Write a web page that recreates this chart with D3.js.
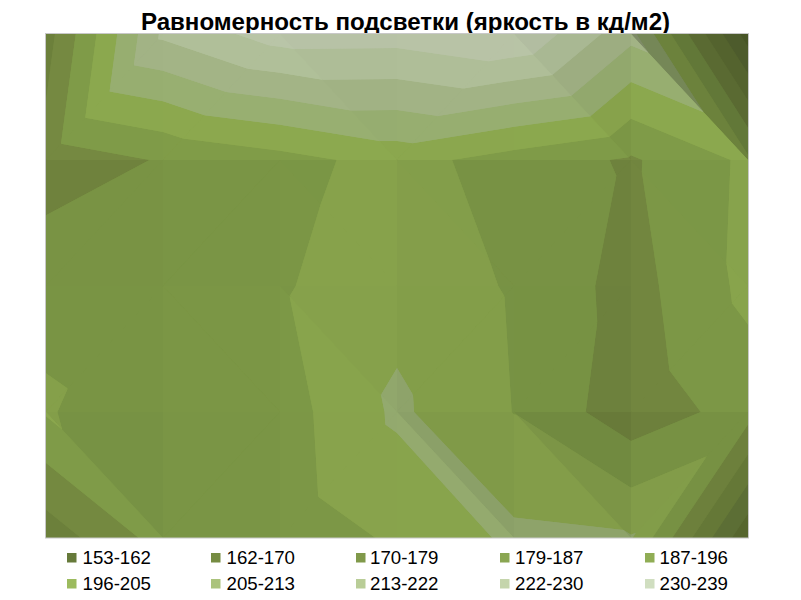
<!DOCTYPE html>
<html><head><meta charset="utf-8">
<script src="https://cdn.jsdelivr.net/npm/d3@7"></script>
<style>html,body{margin:0;padding:0;background:#fff}svg{display:block}text{font-family:"Liberation Sans",Arial,sans-serif;fill:#000}</style>
</head><body><svg id="c" width="801" height="600"></svg>
<script>
const titleText = "Равномерность подсветки (яркость в кд/м2)";
const columns = [0,1,2,3,4,5,6];
const rows = [0,1,2,3,4];
const row0 = [166.5,214.9,226,225.7,230.4,207.3,149];
const row1 = [173.5,179.5,184.3,190.7,183.7,177.7,189.1];
const row2 = [185.6,183.9,186.5,193.2,186.5,175.4,189.6];
const row3 = [188.2,180,183.4,197.5,187.2,173.5,182.4];
const row4 = [165,182.4,182.5,188.5,197.7,196.6,146];
const grid = [row0,row1,row2,row3,row4];
// how each grid cell is split in two: a = anti-diagonal, d = main diagonal
const splits = ["aadadd","aaddad","addaaa","daadda"];
const levels = [120,153,161.6,170.2,178.8,187.4,196,204.6,213.2,221.8,230.4,239];
const bandColors = ["#58692f","#5f7136","#687b39","#70843e","#7a9545","#86a14b","#91a76c","#9cac80","#a8b792","#b1bca0","#bac4ab"];
const legendLabels = ["153-162","162-170","170-179","179-187","187-196","196-205","205-213","213-222","222-230","230-239"];
const legendColors = ["#667a3a","#768c42","#80994a","#8aa652","#90ad55","#9cbb5e","#abc37c","#b9cd97","#c5d5ac","#d0dec0"];
const gain = {x:0.23, y:-0.25};

const svg = d3.select("#c");
const x = d3.scalePoint().domain(columns).range([46,748]);
const y = d3.scalePoint().domain(rows).range([34,538]);
const line = d3.line().x(d=>d.px).y(d=>d.py);

svg.append("text").attr("x",405.5).attr("y",29.5).attr("text-anchor","middle")
  .attr("font-size",24.1).attr("font-weight","bold").text(titleText);

svg.append("clipPath").attr("id","pa").append("rect")
  .attr("x",x(0)).attr("y",y(0)).attr("width",x(6)-x(0)).attr("height",y(4)-y(0));

function clip(poly, test, cut){
  const out=[];
  poly.forEach((p,i)=>{
    const q=poly[(i+1)%poly.length], a=test(p.z), b=test(q.z);
    if(a) out.push(p);
    if(a!==b){const t=(cut-p.z)/(q.z-p.z);
      out.push({px:p.px+t*(q.px-p.px),py:p.py+t*(q.py-p.py),z:cut});}
  });
  return out;
}
const node=(c,r)=>({px:x(c),py:y(r),z:grid[r][c]});
function shade(t){
  const [A,B,C]=t;
  const d=(B.px-A.px)*(C.py-A.py)-(C.px-A.px)*(B.py-A.py);
  const gx=((B.z-A.z)*(C.py-A.py)-(C.z-A.z)*(B.py-A.py))/d;
  const gy=((C.z-A.z)*(B.px-A.px)-(B.z-A.z)*(C.px-A.px))/d;
  const k=1+gain.x*gx+gain.y*gy;
  return k>1?1+(k-1)*0.5:k;
}
const clipped=svg.append("g").attr("clip-path","url(#pa)");
const under=clipped.append("g"), plot=clipped.append("g");
rows.slice(0,-1).forEach(r=>columns.slice(0,-1).forEach(c=>{
  const a=node(c,r),b=node(c+1,r),e=node(c+1,r+1),f=node(c,r+1);
  const tris=splits[r][c]==="a"?[[a,b,f],[b,e,f]]:[[a,b,e],[a,e,f]];
  tris.forEach(t=>{
    const k=shade(t);
    bandColors.forEach((col,i)=>{
      let p=clip(t,z=>z>=levels[i],levels[i]);
      if(p.length) p=clip(p,z=>z<=levels[i+1],levels[i+1]);
      if(p.length<3) return;
      const base=d3.rgb(col);
      const fill=d3.rgb(base.r*k,base.g*k,base.b*k).formatHex();
      under.append("path").attr("d",line(p)+"Z").attr("fill",fill).attr("stroke",fill).attr("stroke-width",1.2);
      plot.append("path").attr("d",line(p)+"Z").attr("fill",fill);
    });
  });
}));
svg.append("rect").attr("x",45.5).attr("y",33.5).attr("width",703).attr("height",504.5)
  .attr("fill","none").attr("stroke","#c8c8c8");

const legCols=[67,211,356,500,645], legRows=[553,579], textCols=[82.5,226.5,370,515,659.5];
const legend=svg.append("g");
legendLabels.forEach((l,i)=>{
  const cx=legCols[i%5], cy=legRows[Math.floor(i/5)];
  legend.append("rect").attr("x",cx).attr("y",cy).attr("width",9.5).attr("height",9.5).attr("fill",legendColors[i]);
  legend.append("text").attr("x",textCols[i%5]).attr("y",cy+10.5).attr("font-size",18.67).text(l);
});
</script></body></html>
